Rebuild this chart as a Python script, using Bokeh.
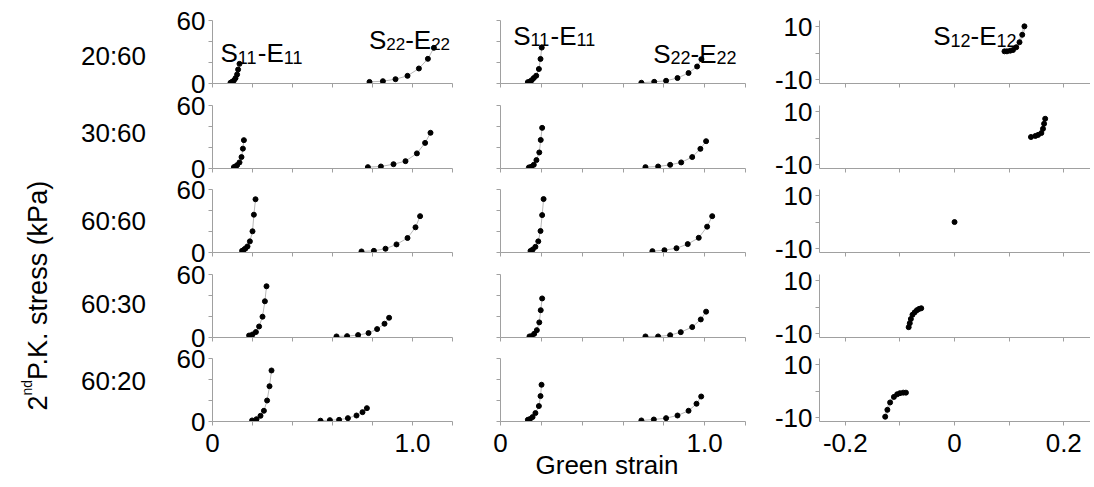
import math
from bokeh.plotting import figure
from bokeh.layouts import row, column
from bokeh.models import Range1d, FixedTicker, Label, Title
from bokeh.embed import file_html
from bokeh.resources import INLINE

# ---------------- data (one inner list per loading ratio) ----------------
ratios = ["20:60", "30:60", "60:60", "60:30", "60:20"]

# left column: Green strain (x) and 2nd P.K. stress in kPa (y)
e11_a = [[0.090, 0.098, 0.107, 0.115, 0.123, 0.128, 0.135],
         [0.107, 0.115, 0.123, 0.135, 0.145, 0.152, 0.157],
         [0.148, 0.157, 0.165, 0.175, 0.187, 0.200, 0.207, 0.215],
         [0.183, 0.200, 0.217, 0.233, 0.250, 0.262, 0.270],
         [0.198, 0.220, 0.240, 0.257, 0.273, 0.285, 0.295]]
s11_a = [[0.7, 1.6, 2.9, 5.1, 8.6, 13.3, 18.7],
         [1.3, 1.9, 3.2, 5.8, 10.9, 18.9, 27.0],
         [1.6, 2.6, 3.9, 5.8, 10.6, 20.2, 36.0, 50.7],
         [1.9, 2.9, 5.2, 10.5, 19.8, 34.5, 48.8],
         [1.0, 2.2, 5.4, 10.2, 20.0, 33.6, 48.6]]
e22_a = [[0.785, 0.852, 0.915, 0.975, 1.032, 1.077, 1.107],
         [0.777, 0.842, 0.905, 0.965, 1.022, 1.063, 1.090],
         [0.745, 0.807, 0.865, 0.920, 0.975, 1.015, 1.038],
         [0.620, 0.673, 0.728, 0.780, 0.823, 0.860, 0.883],
         [0.540, 0.587, 0.633, 0.677, 0.720, 0.750, 0.772]]
s22_a = [[1.5, 2.2, 4.1, 7.3, 14.3, 23.5, 34.0],
         [1.3, 1.9, 4.1, 7.0, 14.4, 24.4, 34.0],
         [1.0, 1.6, 3.6, 7.7, 13.8, 24.0, 34.6],
         [1.0, 1.3, 2.3, 4.2, 8.0, 13.1, 18.8],
         [0.8, 1.3, 1.6, 3.2, 5.7, 8.9, 12.7]]

# middle column
e11_b = [[0.134, 0.144, 0.153, 0.163, 0.175, 0.188, 0.196, 0.202],
         [0.139, 0.150, 0.163, 0.176, 0.190, 0.197, 0.204],
         [0.147, 0.158, 0.171, 0.185, 0.196, 0.204, 0.211],
         [0.142, 0.152, 0.165, 0.178, 0.190, 0.197, 0.204],
         [0.134, 0.144, 0.157, 0.171, 0.188, 0.196, 0.201]]
s11_b = [[1.3, 1.9, 3.2, 5.2, 7.4, 13.8, 23.4, 34.2],
         [1.0, 1.6, 3.5, 8.0, 15.3, 27.2, 38.7],
         [1.5, 2.9, 5.4, 10.6, 20.5, 35.6, 50.9],
         [1.0, 1.3, 3.5, 7.0, 14.4, 26.0, 37.2],
         [1.6, 2.3, 4.2, 8.0, 14.7, 24.2, 35.0]]
e22_b = [[0.690, 0.753, 0.811, 0.867, 0.921, 0.963, 0.984],
         [0.710, 0.772, 0.831, 0.885, 0.939, 0.979, 1.007],
         [0.744, 0.803, 0.862, 0.917, 0.971, 1.012, 1.037],
         [0.710, 0.772, 0.831, 0.883, 0.939, 0.981, 1.007],
         [0.690, 0.751, 0.811, 0.867, 0.921, 0.960, 0.983]]
s22_b = [[0.7, 1.6, 2.6, 5.2, 10.0, 16.2, 23.2],
         [1.3, 1.9, 3.5, 5.8, 10.9, 18.7, 26.0],
         [1.3, 2.2, 4.1, 8.0, 14.0, 24.6, 34.6],
         [1.0, 1.0, 2.2, 5.1, 9.9, 17.2, 24.6],
         [1.0, 1.9, 3.2, 5.7, 10.2, 16.9, 23.8]]

# right column: shear
e12 = [[0.0915, 0.096, 0.102, 0.107, 0.113, 0.119, 0.124, 0.128],
       [0.140, 0.148, 0.153, 0.159, 0.162, 0.164, 0.166],
       [0.0],
       [-0.084, -0.082, -0.080, -0.077, -0.073, -0.069, -0.065, -0.061],
       [-0.127, -0.123, -0.118, -0.111, -0.105, -0.100, -0.094, -0.089]]
s12 = [[0.65, 0.65, 0.9, 1.15, 2.2, 4.1, 6.9, 10.1],
       [0.4, 0.8, 1.2, 1.9, 3.5, 5.4, 7.3],
       [0.0],
       [-7.6, -6.1, -4.5, -2.9, -2.0, -1.2, -0.7, -0.45],
       [-9.7, -7.1, -4.3, -2.2, -1.2, -0.8, -0.6, -0.6]]

# axis ticks / labels
normal_xticks = [0, 0.2, 0.4, 0.6, 0.8, 1.0, 1.2]
normal_xlabels = {0: "0", 1.0: "1.0"}
normal_yticks = [0, 20, 40, 60]
normal_ylabels = {0: "0", 60: "60"}
shear_xticks = [-0.2, -0.1, 0, 0.1, 0.2]
shear_xlabels = {-0.2: "-0.2", 0: "0", 0.2: "0.2"}
shear_yticks = [-10, 0, 10]
shear_ylabels = {-10: "-10", 10: "10"}

# ---------------- styling ----------------
FONT = "Liberation Sans"
GRAY = "#a0a0a0"
FS = "26px"
ADV = {"S": 0.667, "E": 0.667, "-": 0.333, "1": 0.556, "2": 0.556,
       "n": 0.556, "d": 0.556, " ": 0.278}


def text_width(s, px):
    return sum(ADV.get(c, 0.556) for c in s) * px


def sub_label(p, x, y, sub, sub_px=18):
    pieces = [("S", 26, 0), (sub, sub_px, -4), ("-E", 26, 0), (sub, sub_px, -4)]
    off = 0.0
    for t, size, dy in pieces:
        p.add_layout(Label(x=x, y=y, x_offset=off, y_offset=dy, text=t,
                           text_font=FONT, text_font_size=f"{size}px",
                           text_baseline="alphabetic", text_align="left",
                           text_color="black"))
        off += text_width(t, size)


def style_axis(ax, ticks, labels, show_labels, standoff):
    if show_labels:
        major = [t for t in ticks if t in labels]
        minor = [t for t in ticks if t not in labels]
        ax.ticker = FixedTicker(ticks=major, minor_ticks=minor)
        ax.major_label_overrides = {k: v for k, v in labels.items()}
    else:
        ax.ticker = FixedTicker(ticks=[], minor_ticks=list(ticks))
    ax.axis_line_color = GRAY
    ax.axis_line_width = 1
    ax.major_tick_line_color = GRAY
    ax.minor_tick_line_color = GRAY
    ax.major_tick_in = 0
    ax.major_tick_out = 4
    ax.minor_tick_in = 0
    ax.minor_tick_out = 4
    ax.major_label_text_font = FONT
    ax.major_label_text_font_size = FS
    ax.major_label_text_color = "black"
    ax.major_label_standoff = standoff


def make_fig(w, h, bl, br, bt, bb, xr, yr):
    p = figure(width=w, height=h, x_range=Range1d(*xr), y_range=Range1d(*yr),
               min_border_left=bl, min_border_right=br, min_border_top=bt,
               min_border_bottom=bb, toolbar_location=None,
               output_backend="svg", title=None)
    p.grid.visible = False
    p.outline_line_color = None
    p.background_fill_color = None
    p.border_fill_color = None
    return p


# rows overlap by OV px (transparent canvases) so tick labels are not cut
OV = 12
tops = [20, 12 + OV, 12 + OV, 12 + OV, 12 + OV]
bottoms = [10 + OV, 9 + OV, 10 + OV, 9 + OV, 57]
FRAME_H = 63
col_w = [316, 295, 319]
col_bl = [52, 24, 46]
col_br = [24, 26, 0]
normal_xr = (0, 1.2)
normal_yr = (0, 60)
shear_xr = (-0.2473, 0.249)
shear_yr = (-11.5, 12.3)

rows = []
for i in range(5):
    last = (i == 4)
    bt, bb = tops[i], bottoms[i]
    h = bt + FRAME_H + bb
    figs = []
    for c in range(3):
        if c < 2:
            p = make_fig(col_w[c], h, col_bl[c], col_br[c], bt, bb, normal_xr, normal_yr)
            style_axis(p.xaxis[0], normal_xticks, normal_xlabels, last, 8)
            style_axis(p.yaxis[0], normal_yticks, normal_ylabels, c == 0, 3)
            ex1, sy1, ex2, sy2 = ((e11_a, s11_a, e22_a, s22_a) if c == 0
                                  else (e11_b, s11_b, e22_b, s22_b))
            for xs, ys in ((ex1[i], sy1[i]), (ex2[i], sy2[i])):
                p.line(xs, ys, line_color="#b8b8b8", line_width=1)
                p.scatter(xs, ys, size=5, fill_color="black", line_color="black")
        else:
            p = make_fig(col_w[c], h, col_bl[c], col_br[c], bt, bb, shear_xr, shear_yr)
            style_axis(p.xaxis[0], shear_xticks, shear_xlabels, last, 8)
            style_axis(p.yaxis[0], shear_yticks, shear_ylabels, True, 3)
            p.line(e12[i], s12[i], line_color="#cfcfcf", line_width=3)
            p.scatter(e12[i], s12[i], size=5, fill_color="black", line_color="black")
        figs.append(p)
    if i == 0:
        sub_label(figs[0], 0.04, 28.6, "11")
        sub_label(figs[0], 0.782, 41.0, "22", 17)
        sub_label(figs[1], 0.062, 45.7, "11")
        sub_label(figs[1], 0.748, 28.3, "22")
        sub_label(figs[2], -0.039, 6.37, "12")
    if last:
        figs[1].add_layout(Title(text="Green strain", align="left", offset=35,
                                 standoff=-14, text_font=FONT, text_font_size=FS,
                                 text_font_style="normal", text_color="black"),
                           "below")
    if i == 0:
        rows.append(row(*figs))
    else:
        rows.append(row(*figs, margin=(-2 * OV, 0, 0, 0)))

# gutter with row labels and the shared y title (coordinates = page pixels)
g = figure(width=160, height=478, x_range=Range1d(0, 160), y_range=Range1d(478, 0),
           x_axis_location=None, y_axis_location=None, min_border=0,
           toolbar_location=None, output_backend="svg", title=None)
g.grid.visible = False
g.outline_line_color = None
row_label_y = [55, 132, 220, 303, 380]
for lab, yy in zip(ratios, row_label_y):
    g.add_layout(Label(x=113, y=yy, text=lab, text_font=FONT, text_font_size=FS,
                       text_align="center", text_baseline="middle", text_color="black"))

title_pieces = [("2", 27, 37), ("nd", 14, 26), (" P.K. stress (kPa)", 27, 37)]
ty = 410.0
for t, size, bx in title_pieces:
    g.add_layout(Label(x=bx, y=ty, text=t, angle=math.pi / 2, text_font=FONT,
                       text_font_size=f"{size}px", text_align="left",
                       text_baseline="alphabetic", text_color="black"))
    ty -= text_width(t, size)

layout = row(g, column(*rows))
open("out.html", "w").write(file_html(layout, INLINE, title="stress-strain"))
